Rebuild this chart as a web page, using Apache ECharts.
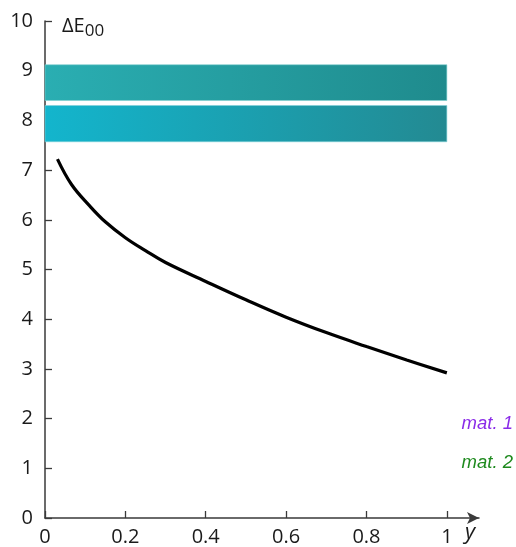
<!DOCTYPE html>
<html>
<head>
<meta charset="utf-8">
<script src="https://cdn.jsdelivr.net/npm/echarts@6/dist/echarts.min.js"></script>
<style>html,body{margin:0;padding:0;background:#fff;}#c{width:516px;height:547px;}</style>
</head>
<body>
<div id="c"></div>
<script>
// Data
const xVals = [0.031, 0.066, 0.11, 0.15, 0.2, 0.25, 0.3, 0.4, 0.5, 0.6, 0.7, 0.8, 0.9, 1.0];
const yVals = [7.22, 6.71, 6.29, 5.96, 5.64, 5.38, 5.14, 4.76, 4.39, 4.04, 3.73, 3.45, 3.18, 2.92];
const xTicks = [0, 0.2, 0.4, 0.6, 0.8, 1];
const xTickLabels = ['0', '0.2', '0.4', '0.6', '0.8', '1'];
const upperBand = [8.40, 9.12];
const lowerBand = [7.57, 8.30];
const bandX = [0, 1];
const legendNames = ['mat. 1', 'mat. 2'];

const chart = echarts.init(document.getElementById('c'), null, {renderer: 'canvas'});
const font = '"Open Sans", sans-serif';
const axisColor = '#3a3a3a';

function grad(c0, c1) {
  return new echarts.graphic.LinearGradient(0, 0, 1, 0, [{offset: 0, color: c0}, {offset: 1, color: c1}]);
}

const option = {
  animation: false,
  backgroundColor: '#ffffff',
  grid: {left: 45, right: 37, top: 21, bottom: 29, containLabel: false},
  xAxis: {
    type: 'value', min: 0, max: 1.08,
    axisLine: {show: true, lineStyle: {color: axisColor, width: 1.5}, symbol: ['none', 'arrow'], symbolSize: [9, 12], symbolOffset: [0, 0]},
    axisTick: {show: true, inside: true, length: 7, lineStyle: {color: axisColor, width: 1.3}, customValues: xTicks},
    axisLabel: {customValues: xTicks, margin: 9, fontFamily: font, fontSize: 20, color: '#1a1a1a',
      formatter: function (v) { const i = xTicks.findIndex(t => Math.abs(t - v) < 1e-9); return i >= 0 ? xTickLabels[i] : ''; }},
    splitLine: {show: false},
    name: 'y', nameLocation: 'end', nameGap: -9,
    nameTextStyle: {fontFamily: font, fontSize: 22, fontStyle: 'italic', color: '#1a1a1a', align: 'center', verticalAlign: 'top', padding: [4, 0, 0, 0]}
  },
  yAxis: {
    type: 'value', min: 0, max: 10, interval: 1,
    axisLine: {show: true, lineStyle: {color: axisColor, width: 1.5}},
    axisTick: {show: true, inside: true, length: 7, lineStyle: {color: axisColor, width: 1.3}},
    axisLabel: {margin: 12, fontFamily: font, fontSize: 20, color: '#1a1a1a'},
    splitLine: {show: false},
    name: '{a|ΔE}{b|00}', nameLocation: 'end', nameGap: -5,
    nameTextStyle: {fontFamily: font, fontSize: 20, color: '#1a1a1a', align: 'left', verticalAlign: 'middle', padding: [0, 0, 0, 17],
      rich: {a: {fontFamily: font, fontSize: 20, color: '#1a1a1a'}, b: {fontFamily: font, fontSize: 17, color: '#1a1a1a', padding: [10, 0, 0, 0]}}}
  },
  series: [
    {
      type: 'line', name: 'curve',
      data: xVals.map((x, i) => [x, yVals[i]]),
      smooth: 0.4, showSymbol: false,
      lineStyle: {color: '#000', width: 3.2},
      z: 5,
      markArea: {
        silent: true,
        data: [
          [{coord: [bandX[0], upperBand[1]], itemStyle: {color: grad('#2aaeb2', '#1f8b8d'), borderColor: '#7fd0d0', borderWidth: 0.6}},
           {coord: [bandX[1], upperBand[0]]}],
          [{coord: [bandX[0], lowerBand[1]], itemStyle: {color: grad('#13b5cd', '#238a92'), borderColor: '#7fd0d8', borderWidth: 0.6}},
           {coord: [bandX[1], lowerBand[0]]}]
        ]
      }
    }
  ],
  graphic: [
    {type: 'text', right: 3, top: 414, style: {text: legendNames[0], fontFamily: '"Liberation Sans", Arial, sans-serif', fontSize: 18.5, fontStyle: 'italic', fill: '#8a2be8'}},
    {type: 'text', right: 3, top: 453, style: {text: legendNames[1], fontFamily: '"Liberation Sans", Arial, sans-serif', fontSize: 18.5, fontStyle: 'italic', fill: '#1e8a1e'}}
  ]
};
chart.setOption(option);
</script>
</body>
</html>
